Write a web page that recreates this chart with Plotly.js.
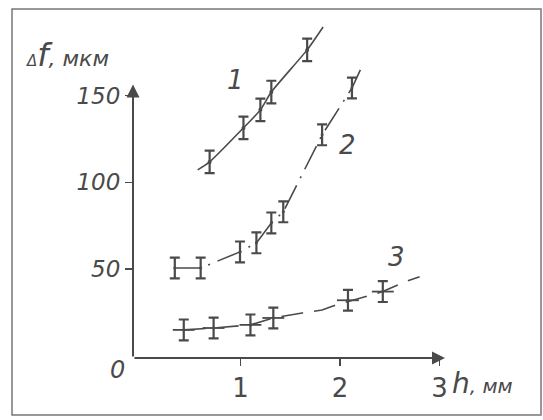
<!DOCTYPE html>
<html>
<head>
<meta charset="utf-8">
<script src="https://cdn.plot.ly/plotly-3.0.1.min.js"></script>
<style>html,body{margin:0;padding:0;background:#fff;}#chart{width:543px;height:420px;}</style>
</head>
<body>
<div id="chart"></div>
<script>
// Curve 1
const s1X = [0.69, 1.03, 1.20, 1.31, 1.67];
const s1Y = [111.8, 131.4, 141.8, 152.1, 176.4];
const s1LineX = [0.57, 0.69, 1.03, 1.20, 1.31, 1.67, 1.83];
const s1LineY = [107.2, 111.8, 131.4, 141.8, 152.1, 176.4, 189.6];
// Curve 2
const s2X = [0.34, 0.60, 0.995, 1.16, 1.31, 1.43, 1.82, 2.12];
const s2Y = [50.6, 50.6, 59.9, 65.1, 76.6, 83.0, 127.4, 154.4];
const s2LineX = [0.34, 0.60, 0.995, 1.16, 1.31, 1.43, 1.82, 2.12, 2.23];
const s2LineY = [50.6, 50.6, 59.9, 65.1, 76.6, 83.0, 127.4, 154.4, 168.0];
// Curve 3
const s3X = [0.43, 0.73, 1.10, 1.33, 2.08, 2.43];
const s3Y = [14.9, 16.0, 17.8, 21.8, 32.0, 37.0];
const s3LineX = [0.43, 0.73, 1.10, 1.33, 1.62, 1.82, 1.93, 2.20, 2.43, 2.65, 2.80];
const s3LineY = [14.9, 16.0, 17.8, 21.8, 24.7, 26.4, 28.7, 33.3, 37.0, 42.6, 45.5];
// Error half-widths
const s1Err = 6.5, s2Err = 6, s3Err = 6, s3ErrX = 0.11;
// Ticks and labels
const xTicks = [1, 2, 3];
const yTicks = [50, 100, 150];
const curveLabels = ['1', '2', '3'];
const curveLabelX = [0.945, 2.08, 2.57];
const curveLabelY = [159, 121.6, 57.1];

const ink = '#4a4a4a';
const hand = {family: 'DejaVu Sans', color: ink, style: 'italic'};

const traces = [
  {x: s1LineX, y: s1LineY, mode: 'lines', line: {color: ink, width: 1.6, shape: 'spline', smoothing: 0.6}, hoverinfo: 'skip'},
  {x: s2LineX, y: s2LineY, mode: 'lines', line: {color: ink, width: 1.6, dash: '26px,8px,2px,8px'}, hoverinfo: 'skip'},
  {x: s3LineX, y: s3LineY, mode: 'lines', line: {color: ink, width: 1.6, dash: '22px,11px'}, hoverinfo: 'skip'},
  {x: s1X, y: s1Y, mode: 'markers', marker: {size: 4, color: ink},
   error_y: {type: 'constant', value: s1Err, width: 5, thickness: 2.2, color: ink}},
  {x: s2X, y: s2Y, mode: 'markers', marker: {size: 3, color: ink},
   error_y: {type: 'constant', value: s2Err, width: 5, thickness: 2.2, color: ink}},
  {x: s3X, y: s3Y, mode: 'markers', marker: {size: 3, color: ink},
   error_y: {type: 'constant', value: s3Err, width: 5, thickness: 2.2, color: ink},
   error_x: {type: 'constant', value: s3ErrX, width: 0, thickness: 1.8, color: ink}}
];

const annotations = [
  // axis arrows
  {x: 3.055, y: -1.3, ax: -0.08, ay: -1.3, xref: 'x', yref: 'y', axref: 'x', ayref: 'y',
   text: '', showarrow: true, arrowhead: 2, arrowsize: 1.3, arrowwidth: 2, arrowcolor: ink},
  {x: -0.08, y: 156.5, ax: -0.08, ay: -1.3, xref: 'x', yref: 'y', axref: 'x', ayref: 'y',
   text: '', showarrow: true, arrowhead: 2, arrowsize: 1.3, arrowwidth: 2, arrowcolor: ink},
  // axis titles
  {xref: 'paper', yref: 'paper', x: -0.35, y: 0.87, xanchor: 'left', yanchor: 'middle', showarrow: false,
   text: '<span style="font-size:15px">Δ</span><span style="font-size:32px">f</span><span style="font-size:22px">, мкм</span>',
   font: Object.assign({}, hand, {size: 22})},
  {xref: 'paper', yref: 'paper', x: 1.015, y: -0.072, xanchor: 'left', yanchor: 'middle', showarrow: false,
   text: '<span style="font-size:28px">h</span>, мм', font: Object.assign({}, hand, {size: 20})},
  {xref: 'paper', yref: 'paper', x: -0.05, y: -0.035, xanchor: 'center', yanchor: 'middle', showarrow: false,
   text: '0', font: Object.assign({}, hand, {size: 24})}
];
curveLabels.forEach((t, i) => annotations.push({
  x: curveLabelX[i], y: curveLabelY[i], xref: 'x', yref: 'y', text: t, showarrow: false,
  font: Object.assign({}, hand, {size: 26})
}));

const frame = {type: 'rect', xref: 'paper', yref: 'paper',
  x0: (12 - 133) / 312, x1: (541 - 133) / 312, y0: (358 - 415) / 348, y1: (358 - 9) / 348,
  line: {color: '#777', width: 1.5}, fillcolor: 'rgba(0,0,0,0)'};

const layout = {
  width: 543, height: 420,
  margin: {l: 133, r: 98, t: 10, b: 62, pad: 0},
  paper_bgcolor: '#fff', plot_bgcolor: '#fff',
  showlegend: false,
  xaxis: {range: [-0.08, 3.055], tickvals: xTicks, ticktext: xTicks.map(String),
    ticks: 'outside', ticklen: 7, tickwidth: 1.5, tickcolor: ink,
    showgrid: false, zeroline: false, showline: false,
    tickfont: Object.assign({}, hand, {size: 26, style: 'normal'})},
  yaxis: {range: [-1.3, 199.4], tickvals: yTicks, ticktext: yTicks.map(String),
    ticks: 'outside', ticklen: 7, tickwidth: 1.5, tickcolor: ink,
    showgrid: false, zeroline: false, showline: false,
    tickfont: Object.assign({}, hand, {size: 23})},
  annotations: annotations,
  shapes: [frame]
};

Plotly.newPlot('chart', traces, layout, {displayModeBar: false, staticPlot: true});
</script>
</body>
</html>
